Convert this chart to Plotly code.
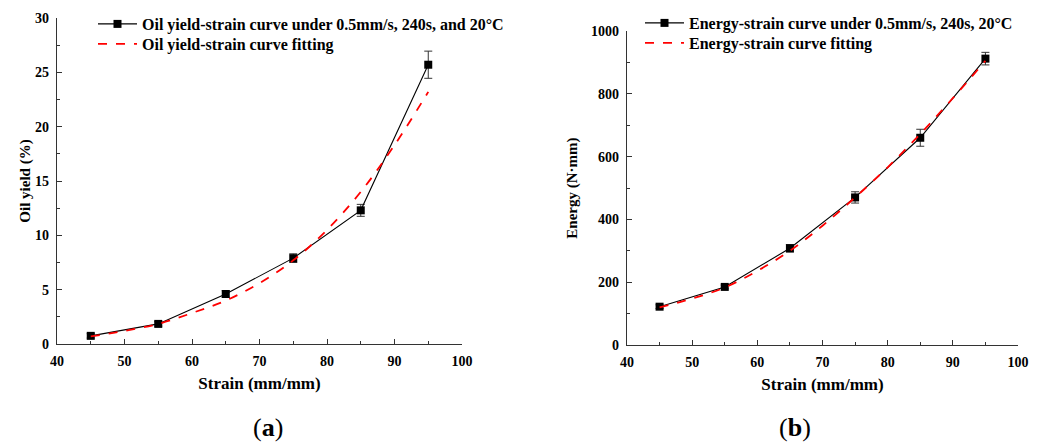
import plotly.graph_objects as go

# ---- data ----
strain = [45, 55, 65, 75, 85, 95]
oil_yield = [0.75, 1.85, 4.6, 7.9, 12.3, 25.7]
oil_err = [0.2, 0.2, 0.3, 0.4, 0.55, 1.25]
fit_strain = [45, 50, 55, 60, 65, 70, 75, 80, 85, 90, 95]
oil_fit = [0.7, 1.2, 1.85, 2.85, 4.0, 5.6, 7.7, 10.5, 14.0, 18.3, 23.2]

energy = [122, 185, 308, 470, 660, 912]
energy_err = [6, 6, 12, 18, 27, 20]
energy_fit = [120, 148, 183, 236, 300, 380, 470, 566, 672, 786, 905]

FONT = "Liberation Serif"

fig = go.Figure()

fig.add_trace(go.Scatter(
    x=strain, y=oil_yield, mode="lines+markers",
    name="Oil yield-strain curve under 0.5mm/s, 240s, and 20°C",
    line=dict(color="black", width=1.1),
    marker=dict(symbol="square", size=8, color="black"),
    error_y=dict(type="data", array=oil_err, color="#333", thickness=1, width=4),
    xaxis="x", yaxis="y", legend="legend"))
fig.add_trace(go.Scatter(
    x=fit_strain, y=oil_fit, mode="lines", line_shape="spline",
    name="Oil yield-strain curve fitting",
    line=dict(color="red", width=1.8, dash="dash"),
    xaxis="x", yaxis="y", legend="legend2"))

fig.add_trace(go.Scatter(
    x=strain, y=energy, mode="lines+markers",
    name="Energy-strain curve under 0.5mm/s, 240s, 20°C",
    line=dict(color="black", width=1.1),
    marker=dict(symbol="square", size=8, color="black"),
    error_y=dict(type="data", array=energy_err, color="#333", thickness=1, width=4),
    xaxis="x2", yaxis="y2", legend="legend3"))
fig.add_trace(go.Scatter(
    x=fit_strain, y=energy_fit, mode="lines", line_shape="spline",
    name="Energy-strain curve fitting",
    line=dict(color="red", width=1.8, dash="dash"),
    xaxis="x2", yaxis="y2", legend="legend4"))

H = 446.0
W = 1040.0

axis_common = dict(
    showline=True, linecolor="#333", linewidth=1.2, mirror=False,
    showgrid=False, zeroline=False, automargin=False,
    ticks="inside", ticklen=5, tickwidth=1.2, tickcolor="#333",
    tickfont=dict(family=FONT, size=14, color="black", weight="bold"),
)
minor = dict(ticks="inside", ticklen=3, tickwidth=1.2, tickcolor="#333")
xtitle_font = dict(size=17, family=FONT, color="black")
ytitle_font = dict(size=15, family=FONT, color="black")


def leg(x, top):
    return dict(x=x / W, y=(H - top) / H, xanchor="left", yanchor="top",
                bgcolor="rgba(0,0,0,0)", itemwidth=39,
                font=dict(family=FONT, size=16, color="black", weight="bold"))


fig.update_layout(
    width=1040, height=446,
    margin=dict(l=0, r=0, t=0, b=0),
    paper_bgcolor="white", plot_bgcolor="white",
    font=dict(family=FONT, color="black"),
    xaxis=dict(domain=[57 / W, 462 / W], range=[40, 100], dtick=10,
               minor=dict(dtick=5, **minor), ticklabelstandoff=4,
               title=dict(text="<b>Strain (mm/mm)</b>", font=xtitle_font, standoff=9),
               anchor="y", **axis_common),
    yaxis=dict(domain=[(H - 344) / H, (H - 18) / H], range=[0, 30], dtick=5,
               minor=dict(dtick=2.5, **minor), ticklabelstandoff=4,
               title=dict(text="<b>Oil yield (%)</b>", font=ytitle_font, standoff=0),
               anchor="x", **axis_common),
    xaxis2=dict(domain=[627 / W, 1018 / W], range=[40, 100], dtick=10,
                minor=dict(dtick=5, **minor), ticklabelstandoff=4,
                title=dict(text="<b>Strain (mm/mm)</b>", font=xtitle_font, standoff=9),
                anchor="y2", **axis_common),
    yaxis2=dict(domain=[(H - 345) / H, (H - 31) / H], range=[0, 1000], dtick=200,
                minor=dict(dtick=100, **minor), ticklabelstandoff=4,
                title=dict(text="<b>Energy (N·mm)</b>", font=ytitle_font, standoff=9),
                anchor="x2", **axis_common),
    legend=leg(93, 7),
    legend2=leg(93, 27),
    legend3=leg(640, 6),
    legend4=leg(640, 26),
    showlegend=True,
    annotations=[
        dict(text="(<b>a</b>)", x=268 / W, y=(H - 427) / H, xref="paper", yref="paper",
             xanchor="center", yanchor="middle",
             showarrow=False, font=dict(family=FONT, size=26, color="black")),
        dict(text="(<b>b</b>)", x=795 / W, y=(H - 427) / H, xref="paper", yref="paper",
             xanchor="center", yanchor="middle",
             showarrow=False, font=dict(family=FONT, size=26, color="black")),
    ],
)

fig.write_html("out.html", post_script="document.body.style.margin='0';",
               config={"displayModeBar": False})
